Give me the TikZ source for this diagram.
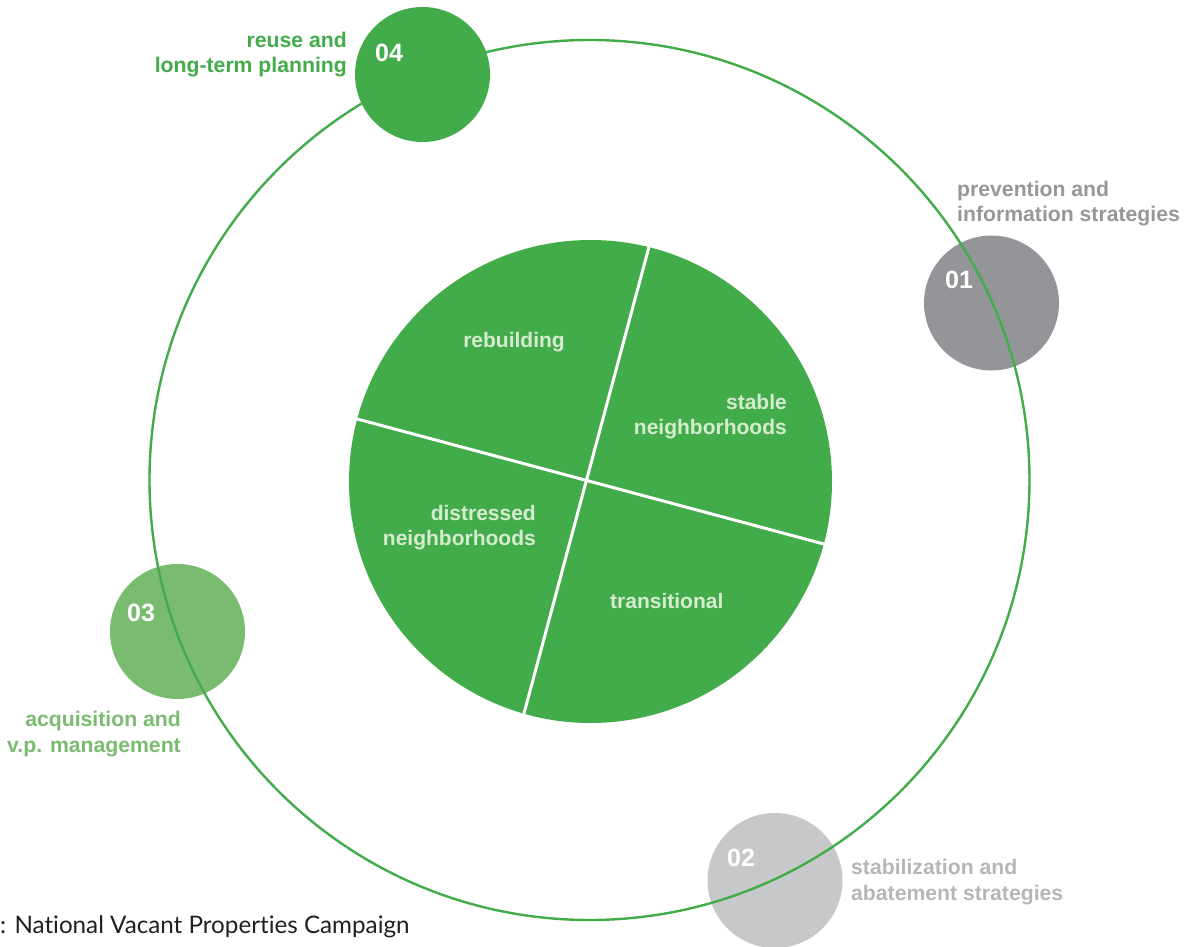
\documentclass[tikz,border=0pt]{standalone}
\usepackage{fontspec}
\setmainfont{Liberation Sans}
\newfontfamily\srcfont[Ligatures={NoCommon,NoRare}]{Lato}
\definecolor{mgreen}{RGB}{67,172,74}
\definecolor{lgreen}{RGB}{122,188,111}
\definecolor{dgray}{RGB}{147,149,152}
\definecolor{lgray}{RGB}{199,200,202}
\definecolor{dgraytext}{RGB}{150,151,154}
\definecolor{lgraytext}{RGB}{181,182,184}
\definecolor{innertxt}{RGB}{214,236,208}
\definecolor{srctxt}{RGB}{35,31,32}
\begin{document}
\begin{tikzpicture}[x=1pt,y=-1pt,
  dot/.style={circle, inner sep=0pt, minimum size=135pt},
  num/.style={font=\fontsize{25}{30}\selectfont\bfseries, text=white, anchor=base west, inner sep=0pt},
  lab/.style={font=\fontsize{21.2}{25.5}\selectfont\bfseries, inner sep=0pt},
  intxt/.style={font=\fontsize{21}{24.5}\selectfont\bfseries, text=innertxt, inner sep=0pt},
  divider/.style={white, line width=3pt}]
\useasboundingbox (0,0) rectangle (1187,947);

% satellite circles under the ring
\node[dot, fill=dgray] (c01) at (991.5,303) {};
\node[dot, fill=lgray] (c02) at (775,880.5) {};
\node[dot, fill=lgreen] (c03) at (177.5,631.5) {};

% outer ring
\node[circle, draw=mgreen, line width=2.4pt, inner sep=0pt, minimum size=880pt] (ring) at (589.5,480) {};

% satellite over the ring
\node[dot, fill=mgreen] (c04) at (422.5,74.5) {};

% hub
\node[circle, fill=mgreen, inner sep=0pt, minimum size=483pt] (hub) at (590.5,481.5) {};
\draw[divider] (hub.76.5) -- (hub.254.7);
\draw[divider] (hub.165.2) -- (hub.345.6);

% numbers
\node[num] (n04) at (375,62) {04};
\node[num] (n01) at (945,288) {01};
\node[num] (n03) at (127,621) {03};
\node[num] (n02) at (727,866) {02};

% labels (anchor = baseline of last line)
\node[lab, text=mgreen, align=right, anchor=base east] (l04) at (347,73) {reuse and\\long-term planning};
\node[lab, text=dgraytext, align=left, anchor=base west] (l01) at (957,222) {prevention and\\information strategies};
\node[lab, text=lgreen, align=right, anchor=base east] (l03) at (181,752) {acquisition and\\v.p. management};
\node[lab, text=lgraytext, align=left, anchor=base west] (l02) at (851,900) {stabilization and\\abatement strategies};

% hub texts
\node[intxt, anchor=base] (t1) at (514,347) {rebuilding};
\node[intxt, align=right, anchor=base east] (t2) at (787,434) {stable\\neighborhoods};
\node[intxt, align=right, anchor=base east] (t3) at (536,545) {distressed\\neighborhoods};
\node[intxt, anchor=base west] (t4) at (610,608) {transitional};

% source
\node[font=\srcfont\fontsize{24.2}{29}\selectfont, text=srctxt, anchor=base west, inner sep=0pt] (src) at (0,933) {: National Vacant Properties Campaign};
\end{tikzpicture}
\end{document}
